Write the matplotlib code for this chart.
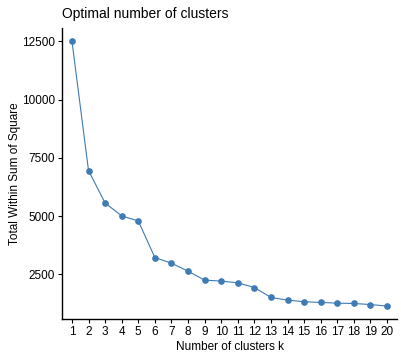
import matplotlib
matplotlib.use("Agg")
import matplotlib.pyplot as plt

k = list(range(1, 21))
wss = [12500, 6950, 5565, 5010, 4795, 3225, 2985, 2640, 2257, 2215,
       2143, 1940, 1513, 1400, 1330, 1300, 1270, 1255, 1210, 1145]
yticks = [2500, 5000, 7500, 10000, 12500]

plt.rcParams['font.family'] = ['Liberation Sans', 'DejaVu Sans']

fig = plt.figure(figsize=(4.01, 3.57), dpi=100)
ax = fig.add_axes([62/401, 1-319.3/357, (397-62)/401, (319.3-28)/357])
color = '#3F7BB4'
ax.plot(k, wss, color=color, lw=0.8, marker='o', ms=3.8, mec=color, mfc=color)

ax.set_xlim(0.4, 20.6)
rng = max(wss) - min(wss)
ax.set_ylim(min(wss) - 0.05*rng, max(wss) + 0.05*rng)
ax.set_xticks(k)
ax.set_yticks(yticks)
ax.set_yticklabels([str(v) for v in yticks])
for s in ['top', 'right']:
    ax.spines[s].set_visible(False)
for s in ['left', 'bottom']:
    ax.spines[s].set_linewidth(1.0)
ax.tick_params(axis='both', length=3, width=0.8, colors='black', labelsize=8.5, pad=2)
ax.set_xlabel('Number of clusters k', fontsize=8.5, labelpad=2)
ax.set_ylabel('Total Within Sum of Square', fontsize=8.5)
ax.yaxis.set_label_coords(-0.123, 0.5)
ax.set_title('Optimal number of clusters', loc='left', fontsize=10, pad=7)

fig.savefig('out.png', dpi=100)
